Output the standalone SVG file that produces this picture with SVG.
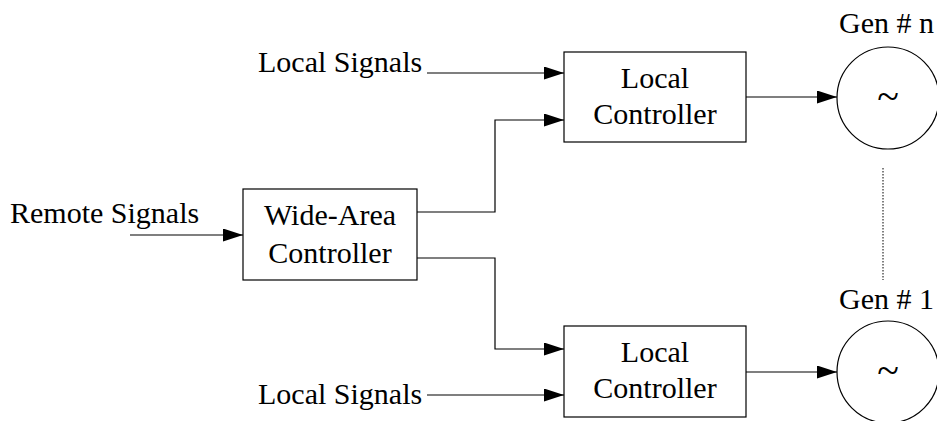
<svg xmlns="http://www.w3.org/2000/svg" width="937" height="421" viewBox="0 0 937 421">
<defs>
<style>
text{font-family:'Liberation Serif','Times New Roman',Times,serif;font-size:30px;fill:#000}
.tilde{font-size:40px}
.box{fill:#fff;stroke:#000;stroke-width:1.2}
.gen{fill:#fff;stroke:#000;stroke-width:1.2}
.c{fill:none;stroke:#000;stroke-width:1.2}
.dot{fill:none;stroke:#000;stroke-width:1;stroke-dasharray:1.5 1.5}
</style>
<marker id="ah" markerUnits="userSpaceOnUse" markerWidth="20" markerHeight="13" refX="20" refY="6.5" orient="auto">
<path d="M0,0 L20,6.5 L0,13 Z" fill="#000"/>
</marker>
</defs>
<rect width="937" height="421" fill="#fff"/>
<g id="connectors">
<path class="c" d="M130,235 H243" marker-end="url(#ah)"/>
<path class="c" d="M427,73 H564" marker-end="url(#ah)"/>
<path class="c" d="M417,212 H495 V120 H564" marker-end="url(#ah)"/>
<path class="c" d="M417,258 H495 V349 H564" marker-end="url(#ah)"/>
<path class="c" d="M427,395 H564" marker-end="url(#ah)"/>
<path class="c" d="M746,97 H837" marker-end="url(#ah)"/>
<path class="c" d="M746,372 H837" marker-end="url(#ah)"/>
<path class="dot" d="M883,168 V280"/>
</g>
<g font-family="Liberation Serif, serif">
<g id="remote-signals"><text x="10" y="223">Remote Signals</text></g>
<g id="local-signals-top"><text x="258" y="72">Local Signals</text></g>
<g id="local-signals-bottom"><text x="258" y="404">Local Signals</text></g>
<g id="wide-area-controller">
<rect class="box" x="243" y="189" width="174" height="91"/>
<text x="330" y="225" text-anchor="middle">Wide-Area</text>
<text x="330" y="263" text-anchor="middle">Controller</text>
</g>
<g id="local-controller-top">
<rect class="box" x="564" y="52" width="182" height="90"/>
<text x="655" y="88" text-anchor="middle">Local</text>
<text x="655" y="124" text-anchor="middle">Controller</text>
</g>
<g id="local-controller-bottom">
<rect class="box" x="564" y="326" width="182" height="91"/>
<text x="655" y="362" text-anchor="middle">Local</text>
<text x="655" y="398" text-anchor="middle">Controller</text>
</g>
<g id="gen-n">
<circle class="gen" cx="888" cy="98" r="51"/>
<text x="839" y="33">Gen # n</text>
<text class="tilde" x="888" y="110" text-anchor="middle">~</text>
</g>
<g id="gen-1">
<circle class="gen" cx="888" cy="372" r="51"/>
<text x="839" y="309">Gen # 1</text>
<text class="tilde" x="888" y="384" text-anchor="middle">~</text>
</g>
</g>
</svg>
